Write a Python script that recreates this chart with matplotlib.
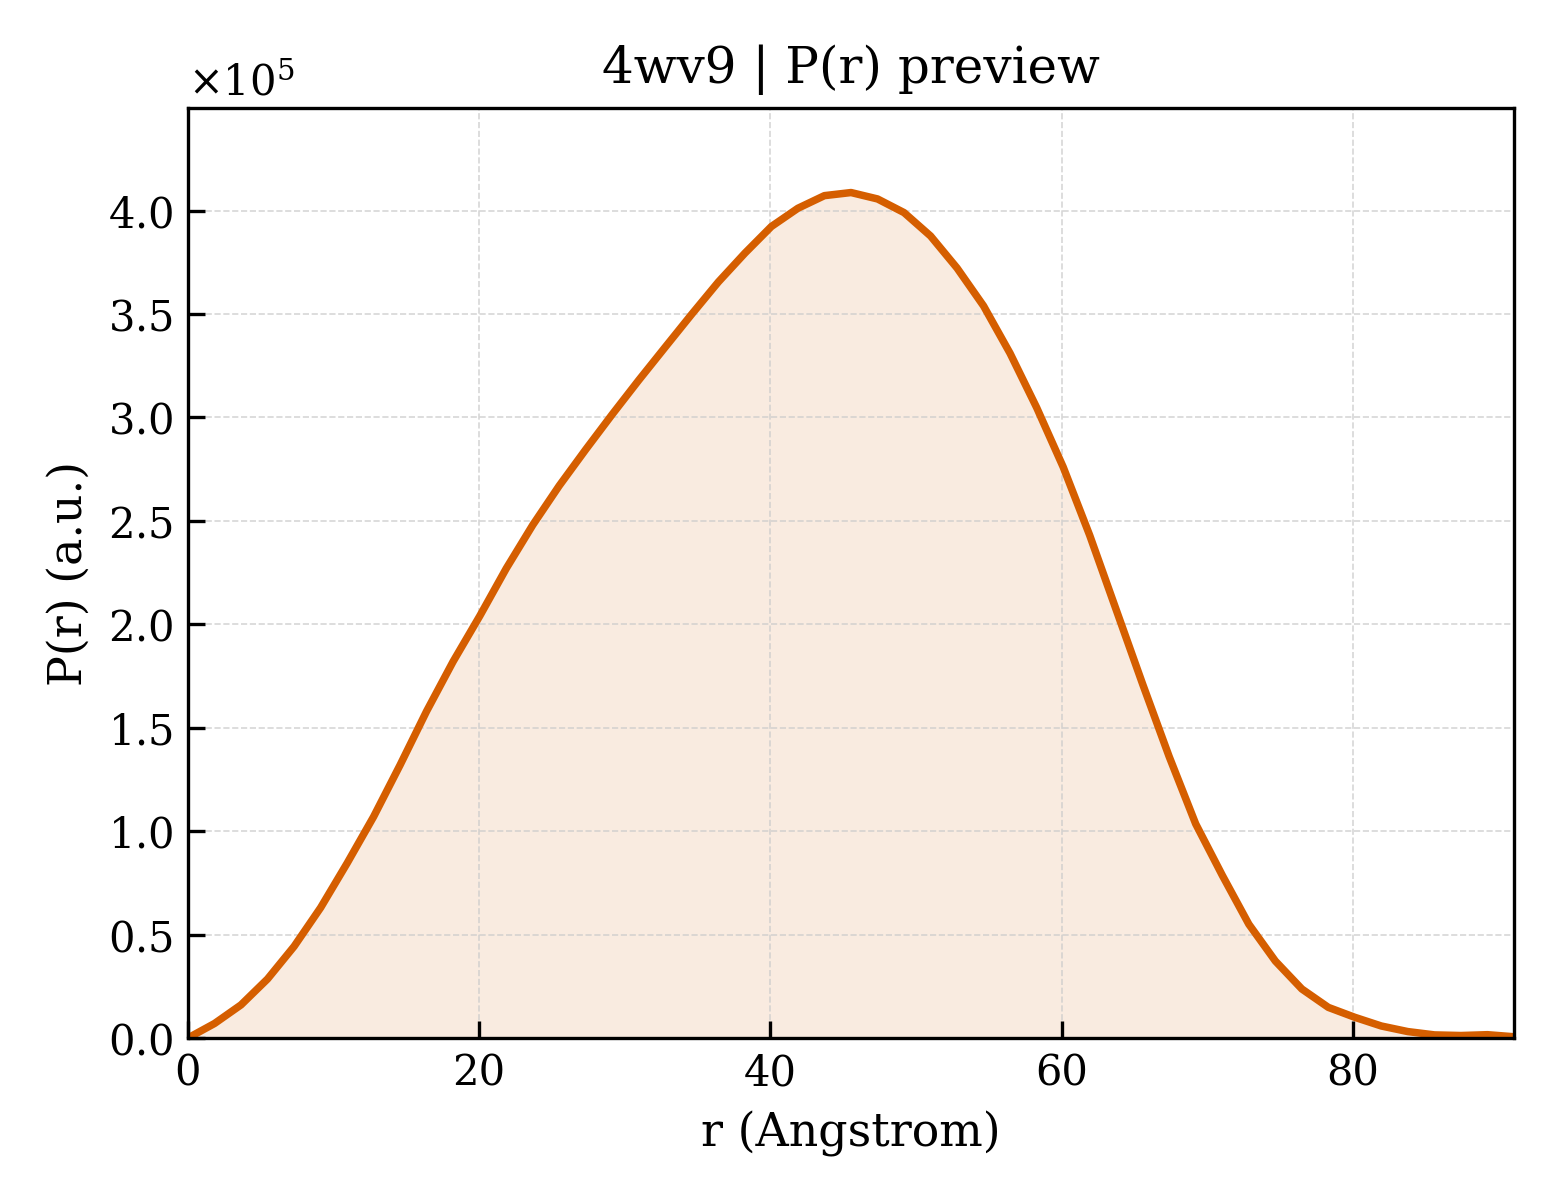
import matplotlib
matplotlib.use("Agg")
import matplotlib.pyplot as plt
from matplotlib.ticker import ScalarFormatter

plt.rcParams['font.family'] = 'DejaVu Serif'
plt.rcParams['mathtext.fontset'] = 'dejavuserif'

r = [0.00, 1.82, 3.64, 5.46, 7.29, 9.11, 10.93, 12.75, 14.57, 16.39,
     18.21, 20.04, 21.86, 23.68, 25.50, 27.32, 29.14, 30.96, 32.78, 34.61,
     36.43, 38.25, 40.07, 41.89, 43.71, 45.54, 47.36, 49.18, 51.00, 52.82,
     54.64, 56.46, 58.29, 60.11, 61.93, 63.75, 65.57, 67.39, 69.21, 71.04,
     72.86, 74.68, 76.50, 78.32, 80.14, 81.96, 83.78, 85.61, 87.43, 89.25,
     91.07]
pr_e5 = [0.0, 0.07, 0.16, 0.285, 0.443, 0.63, 0.845, 1.07, 1.32, 1.58,
         1.82, 2.04, 2.27, 2.48, 2.67, 2.845, 3.015, 3.18, 3.34, 3.50,
         3.655, 3.794, 3.923, 4.011, 4.072, 4.087, 4.056, 3.99, 3.877, 3.722,
         3.539, 3.31, 3.047, 2.76, 2.43, 2.07, 1.71, 1.36, 1.035, 0.786,
         0.55, 0.372, 0.237, 0.148, 0.10, 0.058, 0.031, 0.015, 0.012, 0.016,
         0.006]
pr = [v * 1e5 for v in pr_e5]

color = '#D55E00'

fig, ax = plt.subplots(figsize=(5.2, 4.0), dpi=300)
fig.subplots_adjust(left=0.1205, right=0.9705, top=0.91, bottom=0.135)

ax.fill_between(r, pr, 0, color=color, alpha=0.12, linewidth=0)
ax.plot(r, pr, color=color, linewidth=1.8)

ax.set_xlim(0, max(r))
ax.set_ylim(0, max(pr) * 1.1)

ax.set_title('4wv9 | P(r) preview', fontsize=12)
ax.set_xlabel('r (Angstrom)', fontsize=11)
ax.set_ylabel('P(r) (a.u.)', fontsize=11)

fmt = ScalarFormatter(useMathText=True)
fmt.set_powerlimits((0, 0))
ax.yaxis.set_major_formatter(fmt)
ax.yaxis.get_offset_text().set_fontsize(10)

ax.tick_params(direction='in', length=4, width=0.8, labelsize=10)
for s in ax.spines.values():
    s.set_linewidth(0.8)
ax.grid(True, linestyle='--', linewidth=0.4, color='#cccccc', alpha=0.8)

fig.savefig('out.png', dpi=300)
